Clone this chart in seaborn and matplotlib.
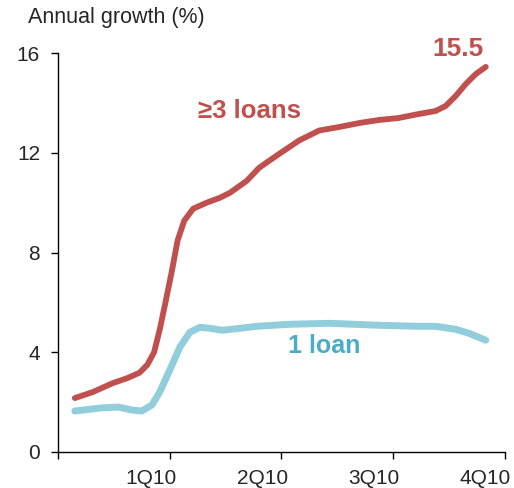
import matplotlib
matplotlib.use("Agg")
import matplotlib.pyplot as plt
import seaborn as sns
import pandas as pd

# Data (x in quarters since 4Q09 start, y = annual growth %)
red_x = [0.15, 0.31, 0.49, 0.62, 0.73, 0.80, 0.86, 0.91, 0.96, 1.02, 1.07, 1.13, 1.21, 1.33, 1.45, 1.54, 1.69,
         1.80, 1.98, 2.16, 2.34, 2.52, 2.70, 2.875, 3.05, 3.23, 3.38, 3.47, 3.56, 3.65, 3.74, 3.83]
red_y = [2.16, 2.40, 2.76, 2.96, 3.18, 3.50, 4.00, 4.90, 5.96, 7.28, 8.48, 9.28, 9.76, 10.00, 10.20, 10.40, 10.88,
         11.40, 11.96, 12.50, 12.90, 13.04, 13.20, 13.32, 13.40, 13.56, 13.68, 13.88, 14.28, 14.76, 15.16, 15.45]
blue_x = [0.15, 0.375, 0.54, 0.66, 0.75, 0.84, 0.91, 1.00, 1.09, 1.18, 1.27, 1.36, 1.47, 1.63, 1.78,
          2.07, 2.43, 2.88, 3.23, 3.38, 3.56, 3.68, 3.83]
blue_y = [1.64, 1.76, 1.80, 1.68, 1.64, 1.88, 2.40, 3.28, 4.20, 4.80, 5.00, 4.96, 4.88, 4.96, 5.04,
          5.12, 5.16, 5.08, 5.04, 5.04, 4.92, 4.76, 4.48]
quarter_labels = ["1Q10", "2Q10", "3Q10", "4Q10"]
label_pos = [0.83, 1.83, 2.83, 3.82]
y_ticks = [0, 4, 8, 12, 16]

RED = "#C0504D"
BLUE_LINE = "#92CDDC"
BLUE_TEXT = "#4BACC6"

sns.set_style("white")
plt.rcParams["font.family"] = ["Liberation Sans", "DejaVu Sans"]

fig = plt.figure(figsize=(5.14, 4.88), dpi=100)
ax = fig.add_axes([0.113, 0.074, 0.869, 0.817])

red_df = pd.DataFrame({"q": red_x, "v": red_y})
blue_df = pd.DataFrame({"q": blue_x, "v": blue_y})
sns.lineplot(data=blue_df, x="q", y="v", ax=ax, color=BLUE_LINE, linewidth=5,
             solid_capstyle="round", solid_joinstyle="round", estimator=None, sort=False)
sns.lineplot(data=red_df, x="q", y="v", ax=ax, color=RED, linewidth=4.2,
             solid_capstyle="round", solid_joinstyle="round", estimator=None, sort=False)

ax.set_xlim(0, 4)
ax.set_ylim(0, 16)
ax.set_yticks(y_ticks)
ax.set_yticklabels([str(t) for t in y_ticks], fontsize=15)
ax.set_xticks([0, 1, 2, 3, 4])
ax.set_xticklabels([])
ax.set_xticks(label_pos, minor=True)
ax.set_xticklabels(quarter_labels, minor=True, fontsize=15)
ax.tick_params(axis="x", which="minor", length=0, pad=12)
ax.tick_params(axis="both", which="major", length=5, width=1, color="black", direction="out")
ax.tick_params(axis="y", pad=8)
ax.tick_params(left=True, bottom=True)
ax.set_xlabel("")
ax.set_ylabel("")
for s in ["top", "right"]:
    ax.spines[s].set_visible(False)
for s in ["left", "bottom"]:
    ax.spines[s].set_color("black")
    ax.spines[s].set_linewidth(1)

ax.text(1.71, 13.7, "≥3 loans", color=RED, fontsize=18.5, fontweight="bold", ha="center", va="center")
ax.text(2.38, 4.24, "1 loan", color=BLUE_TEXT, fontsize=18, fontweight="bold", ha="center", va="center")
ax.text(3.58, 16.16, "15.5", color=RED, fontsize=19, fontweight="bold", ha="center", va="center", clip_on=False)
fig.text(28 / 514, 1 - 18 / 488, "Annual growth (%)", fontsize=15.5, ha="left", va="center")

fig.savefig("out.png", dpi=100)
